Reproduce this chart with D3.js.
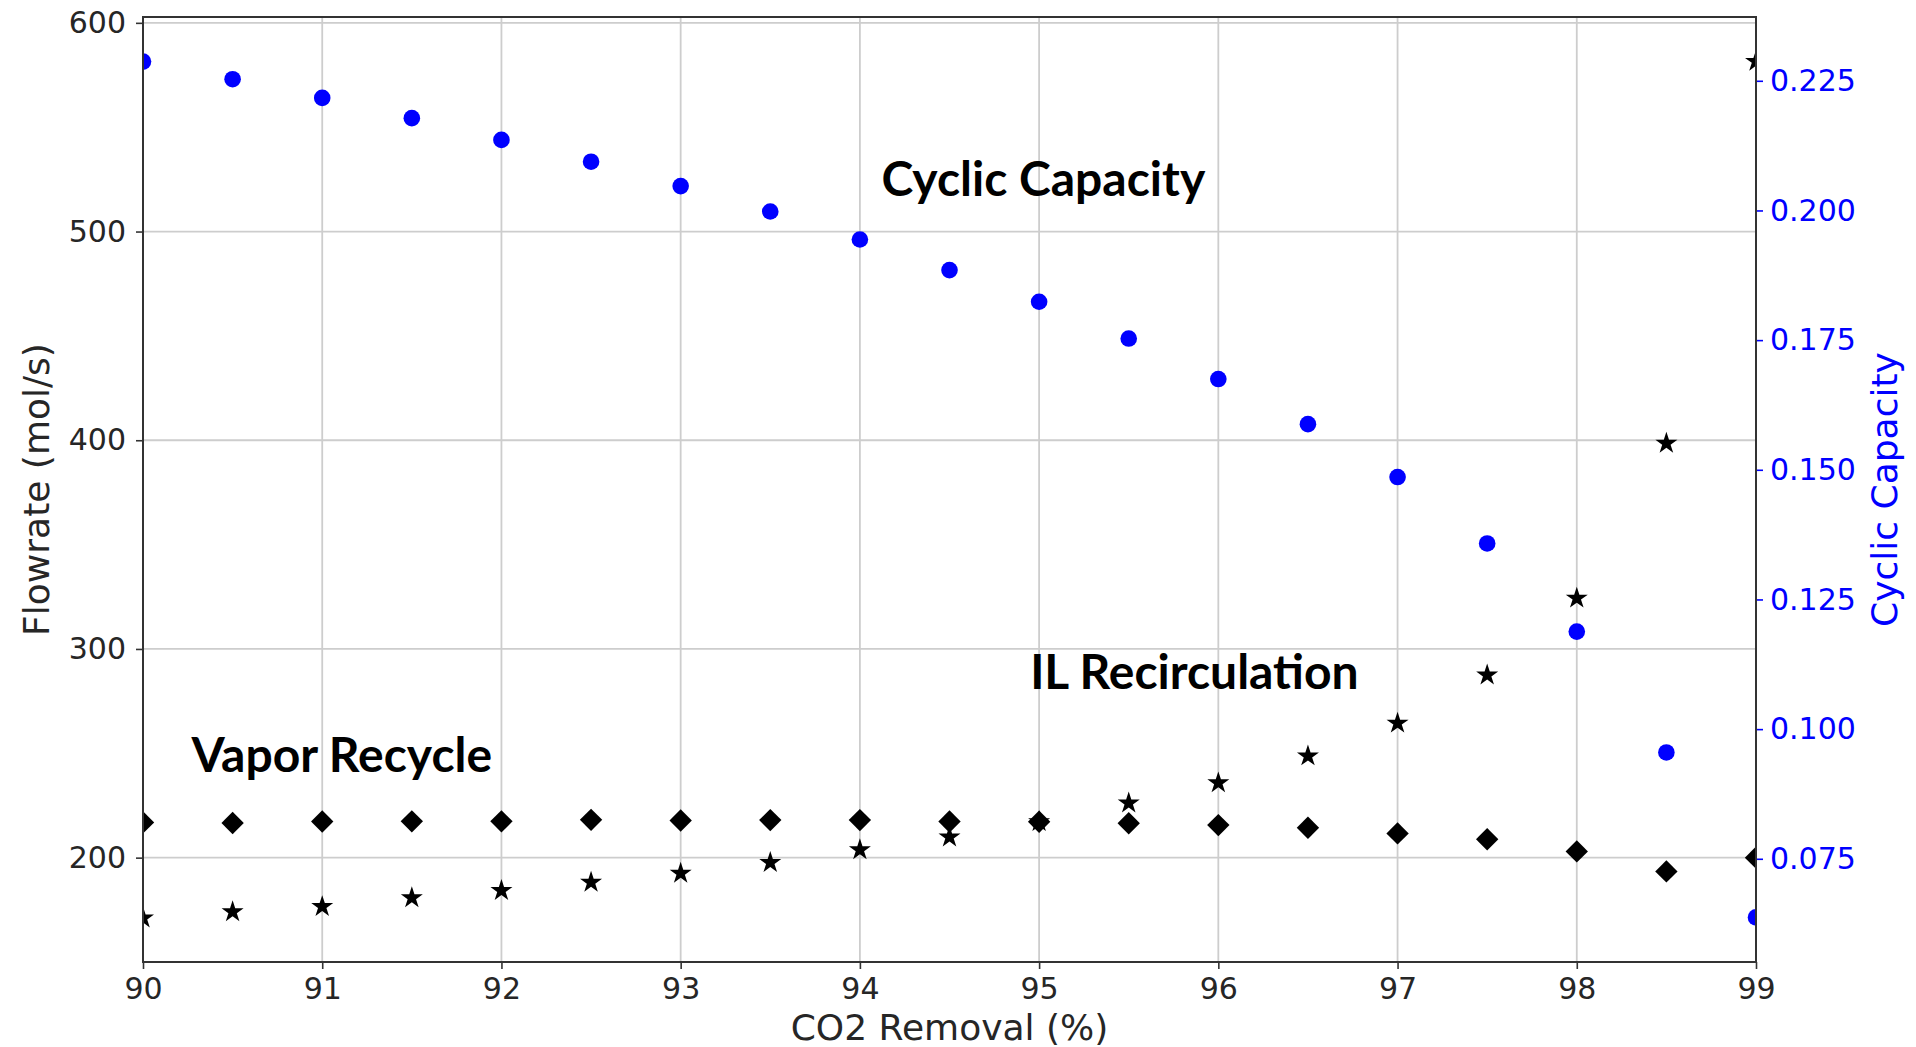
<!DOCTYPE html>
<html>
<head>
<meta charset="utf-8">
<script src="https://cdn.jsdelivr.net/npm/d3@7"></script>
<style>
  html, body { margin: 0; padding: 0; background: #fff; }
  svg { display: block; }
</style>
</head>
<body>
<svg id="chart" width="1916" height="1047"></svg>
<script>
// ---- data ----
const co2Removal = [90, 90.5, 91, 91.5, 92, 92.5, 93, 93.5, 94, 94.5, 95, 95.5, 96, 96.5, 97, 97.5, 98, 98.5, 99];
const cyclicCapacity = [0.2287, 0.2253, 0.2217, 0.2178, 0.2136, 0.2094, 0.2047, 0.1998, 0.1944, 0.1885, 0.1824, 0.1753, 0.1675, 0.1588, 0.1486, 0.1358, 0.1188, 0.0955, 0.0637];
const ilRecirculation = [171.0, 174.0, 176.5, 180.7, 184.2, 188.2, 192.5, 197.6, 203.7, 209.8, 217.2, 226.1, 235.8, 248.7, 264.4, 287.5, 324.3, 398.5, 581.5];
const vaporRecycle = [216.9, 216.6, 217.3, 217.4, 217.4, 218.1, 217.8, 218.0, 218.0, 217.3, 217.2, 216.5, 215.6, 214.3, 211.6, 208.8, 203.0, 193.4, 200.0];
const xTicks = [90, 91, 92, 93, 94, 95, 96, 97, 98, 99];
const yLeftTicks = [200, 300, 400, 500, 600];
const yRightTicks = [0.075, 0.100, 0.125, 0.150, 0.175, 0.200, 0.225];
const xLabel = "CO2 Removal (%)";
const yLeftLabel = "Flowrate (mol/s)";
const yRightLabel = "Cyclic Capacity";
const annotations = [
  { text: "Cyclic Capacity", x: 94.12, y: 517 },
  { text: "IL Recirculation", x: 94.95, y: 280.8 },
  { text: "Vapor Recycle", x: 90.27, y: 241.0 }
];

// ---- layout ----
const L = 143, R = 1756, T = 17, B = 962;
const svg = d3.select("#chart");
const x = d3.scaleLinear().domain([90, 99]).range([L, R]);
const yL = d3.scaleLinear().domain([150, 602.8]).range([B, T]);
const yR = d3.scaleLinear().domain([0.0551, 0.2373]).range([B, T]);

const tickFont = "'DejaVu Sans', sans-serif";
const textCol = "#262626";
const blue = "#0000ff";

svg.append("defs").append("clipPath").attr("id", "plotclip")
  .append("rect").attr("x", L).attr("y", T).attr("width", R - L).attr("height", B - T);

// grid
const grid = svg.append("g");
grid.selectAll("line.vg").data(xTicks).join("line")
  .attr("x1", d => x(d)).attr("x2", d => x(d)).attr("y1", T).attr("y2", B)
  .attr("stroke", "#cdcdcd").attr("stroke-width", 1.8);
grid.selectAll("line.hg").data(yLeftTicks).join("line")
  .attr("x1", L).attr("x2", R).attr("y1", d => yL(d)).attr("y2", d => yL(d))
  .attr("stroke", "#cdcdcd").attr("stroke-width", 1.8);

// axes
function styleAxis(g, color) {
  g.select(".domain").remove();
  g.selectAll(".tick line").attr("stroke", "#333").attr("stroke-width", 1.6);
  g.selectAll(".tick text").attr("font-family", tickFont).attr("font-size", 30).attr("fill", color);
}
const gx = svg.append("g").attr("transform", `translate(0,${B})`)
  .call(d3.axisBottom(x).tickValues(xTicks).tickFormat(d3.format("d")).tickSize(7).tickPadding(9));
styleAxis(gx, textCol);
const gyl = svg.append("g").attr("transform", `translate(${L},0)`)
  .call(d3.axisLeft(yL).tickValues(yLeftTicks).tickFormat(d3.format("d")).tickSize(7).tickPadding(10));
styleAxis(gyl, textCol);
const gyr = svg.append("g").attr("transform", `translate(${R},0)`)
  .call(d3.axisRight(yR).tickValues(yRightTicks).tickFormat(d3.format(".3f")).tickSize(7).tickPadding(7));
styleAxis(gyr, blue);
gyr.selectAll(".tick line").attr("stroke", blue);

// marks
const pts = svg.append("g").attr("clip-path", "url(#plotclip)");
const star = d3.symbol().type(d3.symbolStar).size(150);
pts.selectAll("path.star").data(co2Removal).join("path")
  .attr("class", "star")
  .attr("d", star)
  .attr("transform", (d, i) => `translate(${x(d)},${yL(ilRecirculation[i])})`)
  .attr("fill", "#000");
const diamond = d3.symbol().type(d3.symbolSquare).size(250);
pts.selectAll("path.dia").data(co2Removal).join("path")
  .attr("class", "dia")
  .attr("d", diamond)
  .attr("transform", (d, i) => `translate(${x(d)},${yL(vaporRecycle[i])}) rotate(45)`)
  .attr("fill", "#000");
pts.selectAll("circle.cc").data(co2Removal).join("circle")
  .attr("class", "cc")
  .attr("cx", d => x(d)).attr("cy", (d, i) => yR(cyclicCapacity[i]))
  .attr("r", 8.3).attr("fill", blue);

// spines
svg.append("rect").attr("x", L).attr("y", T).attr("width", R - L).attr("height", B - T)
  .attr("fill", "none").attr("stroke", "#333").attr("stroke-width", 2);

// axis labels
svg.append("text").attr("x", (L + R) / 2).attr("y", 1040)
  .attr("text-anchor", "middle").attr("font-family", tickFont).attr("font-size", 36)
  .attr("fill", textCol).text(xLabel);
svg.append("text").attr("transform", `translate(36,${(T + B) / 2}) rotate(-90)`)
  .attr("text-anchor", "middle").attr("dominant-baseline", "central")
  .attr("font-family", tickFont).attr("font-size", 36).attr("fill", textCol).text(yLeftLabel);
svg.append("text").attr("transform", `translate(1884,${(T + B) / 2}) rotate(-90)`)
  .attr("text-anchor", "middle").attr("dominant-baseline", "central")
  .attr("font-family", tickFont).attr("font-size", 36).attr("fill", blue).text(yRightLabel);

// annotations
svg.append("g").selectAll("text").data(annotations).join("text")
  .attr("x", d => x(d.x)).attr("y", d => yL(d.y))
  .attr("font-family", "Lato, 'Open Sans', sans-serif").attr("font-weight", "bold")
  .attr("font-size", 48).attr("fill", "#000").text(d => d.text);
</script>
</body>
</html>
